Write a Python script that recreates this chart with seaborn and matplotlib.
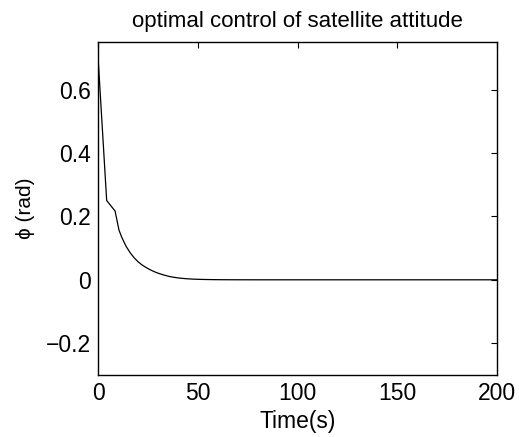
import pandas as pd
import matplotlib
matplotlib.use("Agg")
import matplotlib.pyplot as plt
import seaborn as sns

# Values
time_s = [0, 4.3, 8.5, 10.5, 12, 14, 16, 18, 20, 22, 24, 26, 28, 30, 33, 36,
          40, 44, 48, 52, 56, 60, 65, 70, 80, 100, 150, 200]
phi_rad = [0.70, 0.25, 0.217, 0.156, 0.132, 0.106, 0.086, 0.070, 0.057, 0.047,
           0.039, 0.032, 0.026, 0.021, 0.015, 0.010, 0.006, 0.0035, 0.002,
           0.0012, 0.0007, 0.0004, 0.0002, 0.0001, 0.0, 0.0, 0.0, 0.0]
x_ticks = [0, 50, 100, 150, 200]
y_ticks = [-0.2, 0, 0.2, 0.4, 0.6]

df = pd.DataFrame({"time": time_s, "phi": phi_rad})

sns.set_theme(style="white")
plt.rcParams["font.family"] = ["Liberation Sans", "DejaVu Sans"]
plt.rcParams["text.color"] = "black"
plt.rcParams["axes.labelcolor"] = "black"

fig = plt.figure(figsize=(5.19, 4.37), dpi=100)
ax = fig.add_axes([0.189, 0.142, 0.769, 0.762])

sns.lineplot(data=df, x="time", y="phi", color="black", linewidth=0.9, ax=ax)

ax.set_xlim(0, 200)
ax.set_ylim(-0.3, 0.75)
ax.set_xticks(x_ticks)
ax.set_yticks(y_ticks)
ax.set_yticklabels(["\u22120.2", "0", "0.2", "0.4", "0.6"])
ax.tick_params(direction="in", length=4, width=0.8, top=True, right=True,
               labelsize=16.5, colors="black", pad=5)
for spine in ax.spines.values():
    spine.set_color("black")
    spine.set_linewidth(1.0)

ax.set_xlabel("Time(s)", fontsize=16.5, labelpad=4)
ax.set_ylabel("\u03d5 (rad)", fontsize=15, labelpad=8)
ax.set_title("optimal control of satellite attitude", fontsize=16, pad=11)

fig.savefig("out.png", dpi=100)
